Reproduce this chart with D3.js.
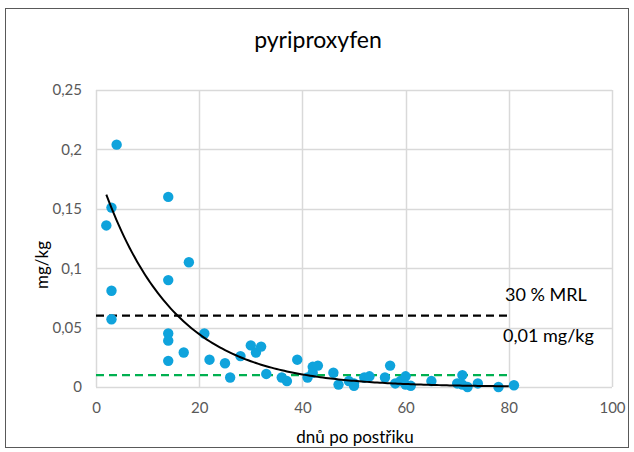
<!DOCTYPE html>
<html><head><meta charset="utf-8">
<script src="https://cdn.jsdelivr.net/npm/d3@7"></script>
<style>
body{margin:0;background:#fff;}
svg{display:block;font-family:Lato,"Open Sans",sans-serif;}
</style></head>
<body><svg id="c" width="634" height="452"></svg>
<script>
// Data (days after spraying, residue mg/kg)
const days = [2,3,3,3,4, 14,14,14,14,14,17,18, 21,22,25,26,28,30,31,32,33, 36,37,39,41,42,42,43, 46,47,49,50,50, 52,53,56,57,58,59,60,60,61, 65,70,71,71,72,74,78,81];
const residues = [0.136,0.151,0.081,0.057,0.204, 0.160,0.090,0.045,0.039,0.022,0.029,0.105, 0.045,0.023,0.020,0.008,0.026,0.035,0.029,0.034,0.011, 0.008,0.005,0.023,0.008,0.012,0.017,0.018, 0.012,0.002,0.005,0.003,0.001, 0.008,0.009,0.008,0.018,0.003,0.005,0.009,0.002,0.001, 0.005,0.003,0.010,0.002,0.000,0.003,0.000,0.0015];
const xTicks = [0,20,40,60,80,100];
const yTicks = [0,0.05,0.1,0.15,0.2,0.25];
const mrl30 = 0.06;      // 30 % MRL
const loq = 0.01;        // 0,01 mg/kg
const limitEndDay = 80;
// exponential trendline y = a*exp(-b*x)
const trendA = 0.187, trendB = 0.0718, trendFrom = 2, trendTo = 80;

const svg = d3.select("#c");
const x = d3.scaleLinear().domain([0,100]).range([96,612]);
const y = d3.scaleLinear().domain([0,0.25]).range([387,90]);
const fmt = d => d3.format(",")(d).replace(".", ",");

// outer chart border
svg.append("rect").attr("x",5.5).attr("y",8.5).attr("width",623).attr("height",439)
  .attr("fill","#fff").attr("stroke","#595959").attr("stroke-width",1);

// gridlines
svg.append("g").selectAll("line").data(yTicks).join("line")
  .attr("x1",x(0)).attr("x2",x(100)).attr("y1",d=>Math.round(y(d))+0.5).attr("y2",d=>Math.round(y(d))+0.5)
  .attr("stroke","#d9d9d9").attr("stroke-width",1.5);
svg.append("g").selectAll("line").data(xTicks).join("line")
  .attr("y1",y(0)).attr("y2",y(0.25)).attr("x1",d=>Math.round(x(d))+0.5).attr("x2",d=>Math.round(x(d))+0.5)
  .attr("stroke","#d9d9d9").attr("stroke-width",1.5);

// axes (labels only)
const xAxis = svg.append("g").attr("transform",`translate(0,${y(0)})`)
  .call(d3.axisBottom(x).tickValues(xTicks).tickSize(0).tickPadding(15).tickFormat(d3.format("d")));
const yAxis = svg.append("g").attr("transform",`translate(${x(0)},0)`)
  .call(d3.axisLeft(y).tickValues(yTicks).tickSize(0).tickPadding(14).tickFormat(fmt));
[xAxis,yAxis].forEach(a=>{
  a.select(".domain").remove();
  a.selectAll("text").attr("fill","#595959").style("font-size","15px").style("font-family","Lato,'Open Sans',sans-serif");
});

// limit lines
svg.append("line").attr("x1",x(0)).attr("x2",x(limitEndDay)).attr("y1",y(mrl30)).attr("y2",y(mrl30))
  .attr("stroke","#000").attr("stroke-width",2.2).attr("stroke-dasharray","8,5");
svg.append("line").attr("x1",x(0)).attr("x2",x(limitEndDay)).attr("y1",y(loq)).attr("y2",y(loq))
  .attr("stroke","#00b050").attr("stroke-width",2.2).attr("stroke-dasharray","8,5");

// points
svg.append("g").selectAll("circle").data(days.map((d,i)=>[d,residues[i]])).join("circle")
  .attr("cx",d=>x(d[0])).attr("cy",d=>y(d[1])).attr("r",5.2).attr("fill","#0fa3dc");

// trendline
const tx = d3.range(trendFrom, trendTo+0.001, 0.5);
svg.append("path").datum(tx.map(v=>[v, trendA*Math.exp(-trendB*v)]))
  .attr("d", d3.line().x(d=>x(d[0])).y(d=>y(d[1])))
  .attr("fill","none").attr("stroke","#000").attr("stroke-width",2);

// annotation texts
svg.append("text").attr("x",505).attr("y",301).text("30 % MRL")
  .attr("fill","#000").style("font-size","18px");
svg.append("text").attr("x",503).attr("y",342).text("0,01 mg/kg")
  .attr("fill","#000").style("font-size","18px");

// titles
svg.append("text").attr("x",318).attr("y",48).attr("text-anchor","middle").text("pyriproxyfen")
  .attr("fill","#000").style("font-size","23px");
svg.append("text").attr("transform","translate(48,265) rotate(-90)").attr("text-anchor","middle").text("mg/kg")
  .attr("fill","#000").style("font-size","17px");
svg.append("text").attr("x",355).attr("y",443).attr("text-anchor","middle").text("dnů po postřiku")
  .attr("fill","#000").style("font-size","17px");
</script></body></html>
